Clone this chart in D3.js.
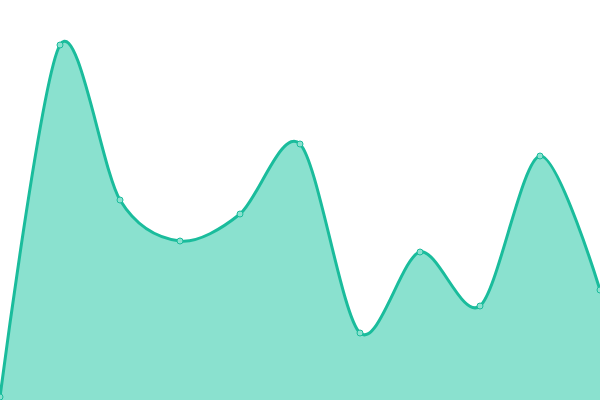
<!DOCTYPE html>
<html>
<head>
<meta charset="utf-8">
<script src="https://d3js.org/d3.v7.min.js"></script>
<style>
body { margin: 0; }
svg { display: block; }
</style>
</head>
<body>
<script>
var xs = [0, 1, 2, 3, 4, 5, 6, 7, 8, 9, 10];
var values = [3, 355, 200, 159, 186, 256, 67, 148, 94, 244, 110];

var width = 600, height = 400;

var x = d3.scaleLinear().domain([0, 10]).range([0, width]);
var y = d3.scaleLinear().domain([0, 400]).range([height, 0]);

var data = xs.map(function(d, i) { return [d, values[i]]; });

var svg = d3.select("body").append("svg")
    .attr("width", width)
    .attr("height", height);

var curve = d3.curveCardinal.tension(0.1);

var area = d3.area()
    .x(function(d) { return x(d[0]); })
    .y0(height)
    .y1(function(d) { return y(d[1]); })
    .curve(curve);

var line = d3.line()
    .x(function(d) { return x(d[0]); })
    .y(function(d) { return y(d[1]); })
    .curve(curve);

svg.append("path")
    .datum(data)
    .attr("d", area)
    .style("fill", "#8ae1cf");

svg.append("path")
    .datum(data)
    .attr("d", line)
    .style("fill", "none")
    .style("stroke", "#1abc9c")
    .style("stroke-width", 3);

svg.selectAll("circle")
    .data(data)
  .enter().append("circle")
    .attr("cx", function(d) { return x(d[0]); })
    .attr("cy", function(d) { return y(d[1]); })
    .attr("r", 3)
    .style("fill", "#8ae1cf")
    .style("stroke", "#1abc9c")
    .style("stroke-width", 1);
</script>
</body>
</html>
